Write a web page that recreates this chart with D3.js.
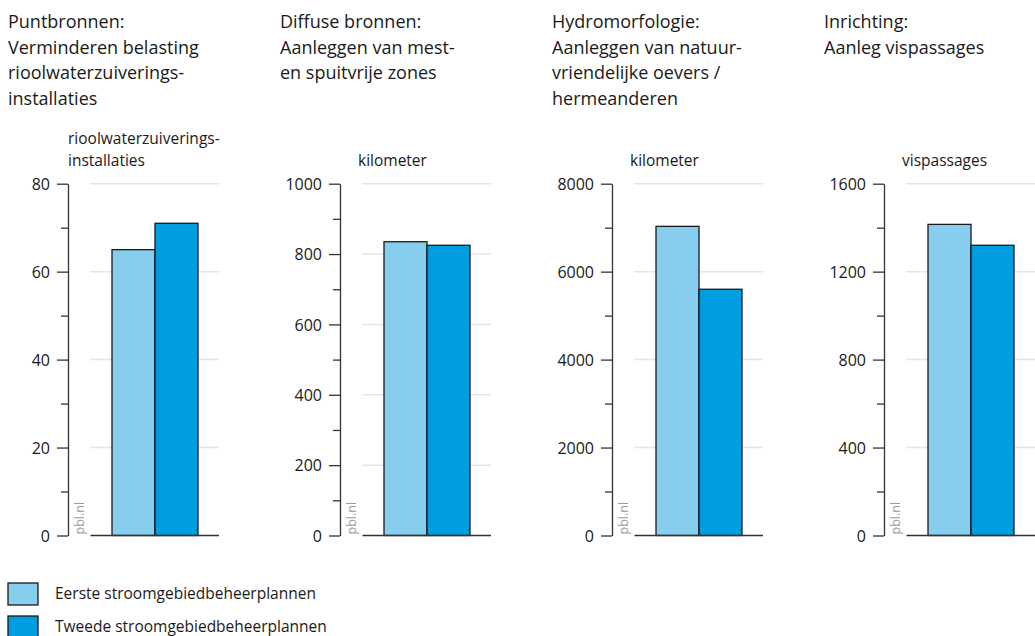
<!DOCTYPE html>
<html>
<head>
<meta charset="utf-8">
<script src="https://cdn.jsdelivr.net/npm/d3@7"></script>
<style>
    body { margin: 0; background: #fff; }
    svg { display: block; font-family: "Open Sans", "Noto Sans", sans-serif; fill: #1a1a1a; }
    .title { font-size: 18px; }
    .unit { font-size: 15.5px; }
    .axis text { font-size: 16px; fill: #1a1a1a; font-family: "Open Sans", sans-serif; }
    .axis line, .axis path { stroke: #333; stroke-width: 1.3px; }
    .grid line { stroke: #e4e4e4; stroke-width: 1.5px; }
    .source { font-size: 12.5px; fill: #9a9a9a; }
    .legend text { font-size: 15.5px; }
</style>
</head>
<body>
<div id="chart"></div>
<script>

// Panel titles (one array of lines per panel)
var titles = [
    ["Puntbronnen:", "Verminderen belasting", "rioolwaterzuiverings-", "installaties"],
    ["Diffuse bronnen:", "Aanleggen van mest-", "en spuitvrije zones"],
    ["Hydromorfologie:", "Aanleggen van natuur-", "vriendelijke oevers /", "hermeanderen"],
    ["Inrichting:", "Aanleg vispassages"]
];

var units = [
    ["rioolwaterzuiverings-", "installaties"],
    ["kilometer"],
    ["kilometer"],
    ["vispassages"]
];

var series = ["Eerste stroomgebiedbeheerplannen", "Tweede stroomgebiedbeheerplannen"];
var eerste = [65, 835, 7030, 1415];
var tweede = [71, 825, 5600, 1320];

// y-axis per panel
var yMax = [80, 1000, 8000, 1600];
var yStep = [20, 200, 2000, 400];

var colors = ["#87cdee", "#009ee0"];

var W = 1035, H = 636;

var svg = d3.select("#chart").append("svg")
    .attr("width", W)
    .attr("height", H);

var panelW = 272,
    axisX0 = 68,
    yTop = 183.7,
    yBottom = 535.5;

titles.forEach(function(lines, i){
    var ox = panelW * i;
    var axisX = axisX0 + ox;

    var g = svg.append("g").attr("class", "panel");

    // title
    g.append("text")
        .attr("class", "title")
        .selectAll("tspan")
        .data(lines).enter()
        .append("tspan")
        .attr("x", 8 + ox)
        .attr("y", function(d, j){ return 28 + j * 25.5; })
        .text(function(d){ return d; });

    // unit label above the axis
    var u = units[i];
    var unitX = i === 0 ? axisX : axisX + 18;
    g.append("text")
        .attr("class", "unit")
        .selectAll("tspan")
        .data(u).enter()
        .append("tspan")
        .attr("x", unitX)
        .attr("y", function(d, j){ return 166 - (u.length - 1 - j) * 22; })
        .text(function(d){ return d; });

    var y = d3.scaleLinear()
        .domain([0, yMax[i]])
        .range([yBottom, yTop]);

    var major = d3.range(0, yMax[i] + 1, yStep[i]);
    var minor = d3.range(yStep[i] / 2, yMax[i], yStep[i]);

    var gridX0 = axisX + 22.5, gridX1 = axisX + 151;

    // gridlines
    g.append("g")
        .attr("class", "grid")
        .selectAll("line")
        .data(major.filter(function(d){ return d > 0; }))
        .enter().append("line")
        .attr("x1", gridX0)
        .attr("x2", gridX1)
        .attr("y1", function(d){ return y(d); })
        .attr("y2", function(d){ return y(d); });

    // bars
    var x = d3.scaleBand()
        .domain(series)
        .range([axisX + 44, axisX + 130])
        .padding(0);

    var vals = [eerste[i], tweede[i]];

    g.selectAll(".bar")
        .data(series)
        .enter().append("rect")
        .attr("class", "bar")
        .attr("x", function(d){ return x(d); })
        .attr("y", function(d, j){ return y(vals[j]); })
        .attr("width", x.bandwidth())
        .attr("height", function(d, j){ return yBottom - y(vals[j]); })
        .style("fill", function(d, j){ return colors[j]; })
        .style("stroke", "#1a1a1a")
        .style("stroke-width", 1.3);

    // baseline
    g.append("line")
        .attr("x1", gridX0)
        .attr("x2", gridX1)
        .attr("y1", yBottom)
        .attr("y2", yBottom)
        .style("stroke", "#333")
        .style("stroke-width", 1.3);

    // minor ticks
    g.append("g")
        .attr("class", "axis minor")
        .attr("transform", "translate(" + axisX + ",0)")
        .call(d3.axisLeft(y).tickValues(minor).tickSize(7).tickSizeOuter(0).tickFormat(""))
        .select(".domain").remove();

    // major ticks + axis line
    g.append("g")
        .attr("class", "axis")
        .attr("transform", "translate(" + axisX + ",0)")
        .call(d3.axisLeft(y).tickValues(major).tickSize(11).tickSizeOuter(0).tickPadding(7).tickFormat(d3.format("d")))
        .selectAll("text")
        .attr("dy", "0.35em");

    // source
    g.append("text")
        .attr("class", "source")
        .attr("transform", "translate(" + (axisX + 16) + "," + (yBottom - 1) + ")rotate(-90)")
        .text("pbl.nl");
});

// legend
var legend = svg.selectAll(".legend")
    .data(series).enter()
    .append("g")
    .attr("class", "legend")
    .attr("transform", function(d, i){ return "translate(8," + (583 + i * 33) + ")"; });

legend.append("rect")
    .attr("width", 30)
    .attr("height", 22)
    .style("fill", function(d, i){ return colors[i]; })
    .style("stroke", "#1a1a1a")
    .style("stroke-width", 1.3);

legend.append("text")
    .attr("x", 47)
    .attr("y", 11)
    .attr("dy", "0.35em")
    .text(function(d){ return d; });

</script>
</body>
</html>
